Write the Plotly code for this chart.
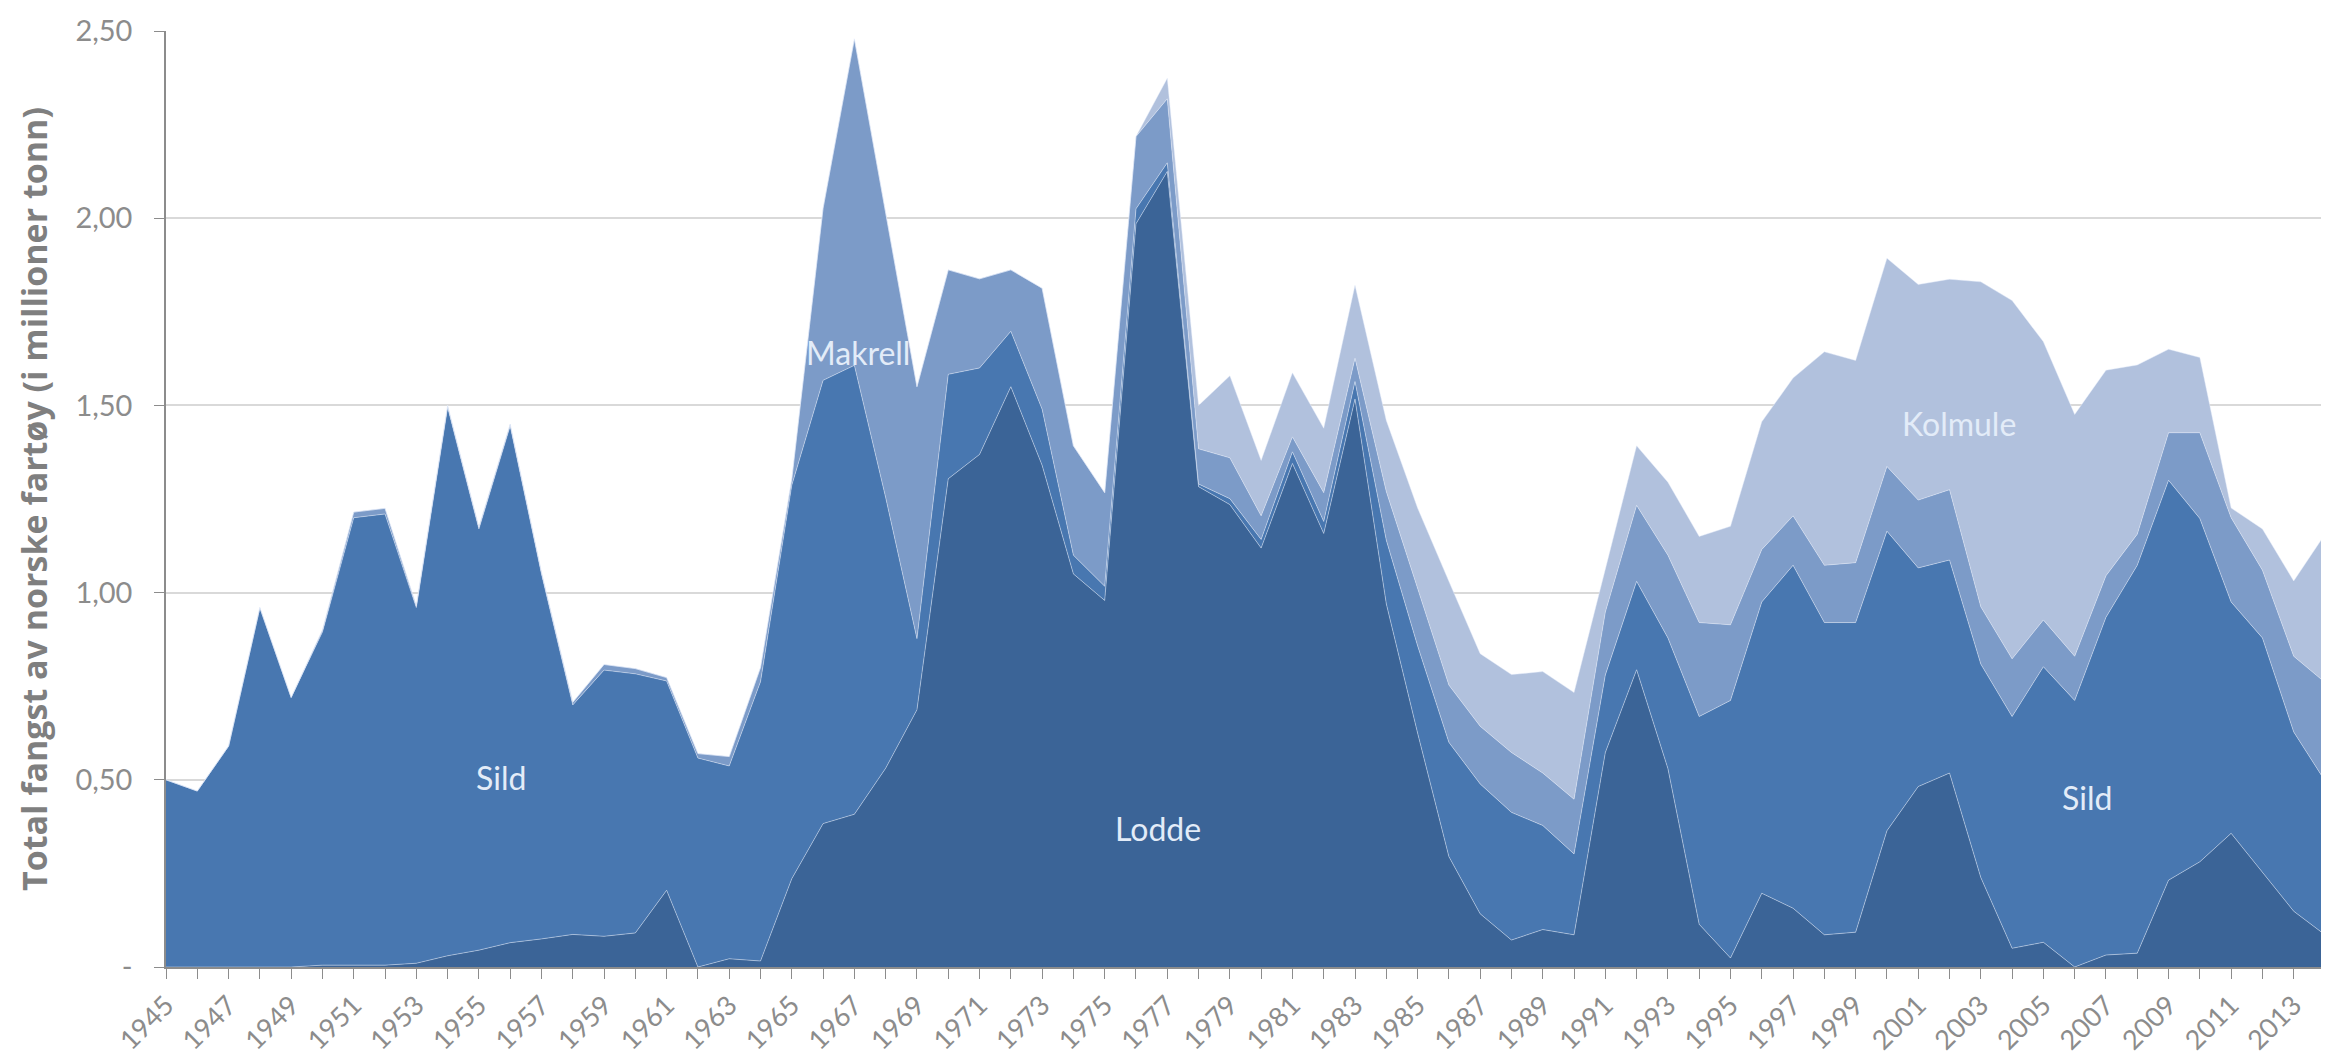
import plotly.graph_objects as go

years = list(range(1945, 2015))

# Cumulative tops (Lodde, +Sild, +Makrell, +Kolmule), million tonnes
lodde_top = [0, 0, 0, 0, 0, 0.005, 0.005, 0.005, 0.01, 0.03,
             0.045, 0.065, 0.075, 0.087, 0.082, 0.091, 0.205, 0.0, 0.022, 0.016,
             0.236, 0.383, 0.408, 0.531, 0.687, 1.304, 1.369, 1.55, 1.34, 1.05,
             0.979, 1.985, 2.125, 1.283, 1.235, 1.119, 1.345, 1.158, 1.517, 0.97,
             0.625, 0.295, 0.142, 0.072, 0.10, 0.086, 0.573, 0.794, 0.53, 0.114,
             0.024, 0.197, 0.157, 0.086, 0.093, 0.364, 0.482, 0.518, 0.239, 0.05,
             0.066, 0.0, 0.032, 0.037, 0.232, 0.281, 0.357, 0.253, 0.149, 0.086]
sild_top = [0.50, 0.47, 0.59, 0.96, 0.72, 0.895, 1.20, 1.21, 0.96, 1.495,
            1.17, 1.445, 1.05, 0.70, 0.793, 0.783, 0.764, 0.558, 0.537, 0.762,
            1.287, 1.567, 1.607, 1.254, 0.877, 1.583, 1.60, 1.698, 1.49, 1.10,
            1.017, 2.025, 2.148, 1.29, 1.251, 1.142, 1.376, 1.19, 1.564, 1.14,
            0.858, 0.60, 0.489, 0.413, 0.378, 0.302, 0.78, 1.03, 0.879, 0.669,
            0.712, 0.975, 1.073, 0.92, 0.92, 1.164, 1.066, 1.087, 0.809, 0.669,
            0.802, 0.712, 0.934, 1.073, 1.30, 1.198, 0.975, 0.879, 0.628, 0.497]
makrell_top = [0.50, 0.47, 0.59, 0.96, 0.72, 0.90, 1.215, 1.225, 0.965, 1.50,
               1.175, 1.45, 1.055, 0.707, 0.808, 0.797, 0.773, 0.570, 0.562, 0.80,
               1.304, 2.027, 2.479, 2.015, 1.55, 1.862, 1.838, 1.862, 1.813, 1.392,
               1.267, 2.218, 2.319, 1.384, 1.36, 1.205, 1.416, 1.267, 1.626, 1.27,
               1.01, 0.753, 0.643, 0.573, 0.518, 0.448, 0.948, 1.233, 1.10, 0.92,
               0.914, 1.115, 1.205, 1.073, 1.08, 1.337, 1.247, 1.275, 0.962, 0.823,
               0.927, 0.83, 1.045, 1.156, 1.427, 1.427, 1.20, 1.06, 0.83, 0.76]
total = [0.50, 0.47, 0.59, 0.96, 0.72, 0.90, 1.215, 1.225, 0.965, 1.50,
         1.175, 1.45, 1.055, 0.707, 0.808, 0.797, 0.773, 0.570, 0.562, 0.80,
         1.304, 2.027, 2.479, 2.015, 1.55, 1.862, 1.838, 1.862, 1.813, 1.392,
         1.267, 2.218, 2.374, 1.50, 1.579, 1.353, 1.587, 1.439, 1.821, 1.46,
         1.226, 1.03, 0.837, 0.781, 0.789, 0.733, 1.06, 1.392, 1.295, 1.15,
         1.177, 1.456, 1.573, 1.643, 1.62, 1.893, 1.823, 1.837, 1.83, 1.78,
         1.67, 1.476, 1.594, 1.608, 1.65, 1.628, 1.226, 1.17, 1.031, 1.156]

lodde = [round(v, 3) for v in lodde_top]
sild = [round(s - l, 3) for s, l in zip(sild_top, lodde_top)]
makrell = [round(m - s, 3) for m, s in zip(makrell_top, sild_top)]
kolmule = [round(k - m, 3) for k, m in zip(total, makrell_top)]

series_names = ["Lodde", "Sild", "Makrell", "Kolmule"]
series_values = [lodde, sild, makrell, kolmule]
series_colors = ["#3B6497", "#4877B0", "#7C9BC8", "#B1C1DD"]

ytick_vals = [0, 0.5, 1.0, 1.5, 2.0, 2.5]
ytick_text = ["-", "0,50", "1,00", "1,50", "2,00", "2,50"]

labels = [("Sild", 1955.7, 0.505), ("Makrell", 1967.1, 1.64), ("Lodde", 1976.7, 0.37),
          ("Kolmule", 2002.3, 1.453), ("Sild", 2006.4, 0.454)]

fig = go.Figure()
for name, vals, col in zip(series_names, series_values, series_colors):
    fig.add_trace(go.Scatter(
        x=years, y=vals, name=name, stackgroup="one", mode="lines",
        line=dict(color="rgba(230,238,250,0.45)", width=1),
        fillcolor=col, hoverinfo="x+y+name"))

for txt, xv, yv in labels:
    fig.add_annotation(x=xv, y=yv, text=txt, showarrow=False,
                       font=dict(family="Lato, Open Sans, sans-serif", size=32, color="#E3ECF8"))

fig.update_layout(
    width=2321, height=1055,
    margin=dict(l=158, r=4, t=18, b=96),
    paper_bgcolor="white", plot_bgcolor="white",
    showlegend=False,
    font=dict(family="Lato, Open Sans, sans-serif", color="#8C8C8C"),
)
fig.update_xaxes(
    range=[1945, 2014], tickmode="linear", tick0=1945, dtick=2,
    tickangle=-45, tickfont=dict(size=27, color="#8C8C8C"),
    ticks="outside", ticklen=10, tickcolor="#8C8C8C",
    minor=dict(dtick=1, ticks="outside", ticklen=10, tickcolor="#8C8C8C"),
    showline=True, linecolor="#8C8C8C", linewidth=1.5,
    showgrid=False, zeroline=False, ticklabeloverflow="allow")
fig.update_yaxes(
    range=[0, 2.5], tickvals=ytick_vals, ticktext=ytick_text,
    tickfont=dict(size=29, color="#8C8C8C"),
    ticks="outside", ticklen=10, tickcolor="#8C8C8C", ticklabelstandoff=16,
    ticklabeloverflow="allow",
    showline=True, linecolor="#8C8C8C", linewidth=1.5,
    showgrid=True, gridcolor="#D9D9D9", gridwidth=1.5, zeroline=False,
    title=dict(text="<b>Total fangst av norske fartøy (i millioner tonn)</b>",
               font=dict(family="Open Sans, sans-serif", size=34, color="#7F7F7F"),
               standoff=18))

fig.write_html("out.html")
